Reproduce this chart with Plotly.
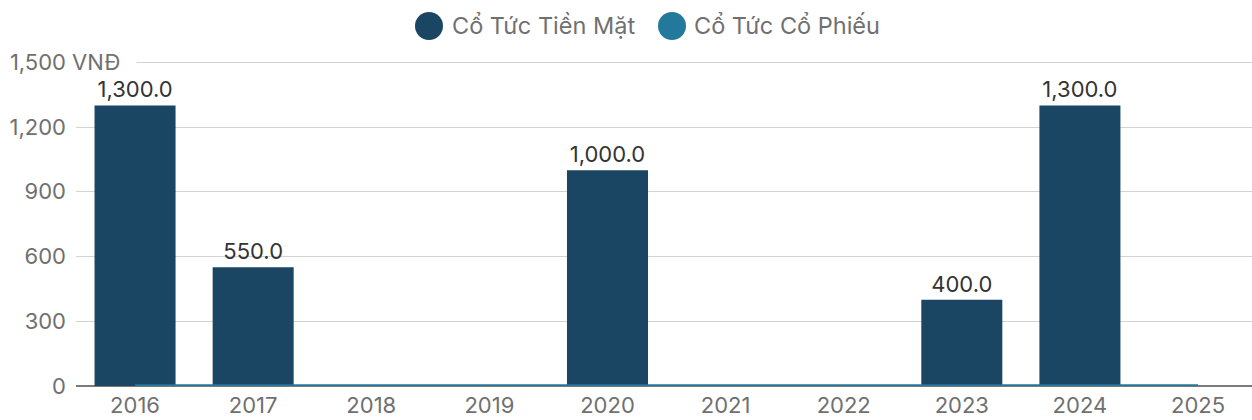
import plotly.graph_objects as go

years = ["2016", "2017", "2018", "2019", "2020", "2021", "2022", "2023", "2024", "2025"]
cash_dividend = [1300, 550, 0, 0, 1000, 0, 0, 400, 1300, 0]
stock_dividend = [0, 0, 0, 0, 0, 0, 0, 0, 0, 0]
series_names = ["Cổ Tức Tiền Mặt", "Cổ Tức Cổ Phiếu"]
y_ticks = [0, 300, 600, 900, 1200, 1500]

C_CASH = "#1b4663"
C_STOCK = "#23799b"
FONT = "Inter"
TXT = "#707070"

W, H = 1252, 420
ML, MR, MT, MB = 76, 0, 58, 34
PW = W - ML - MR
PH = H - MT - MB

fig = go.Figure()
fig.add_trace(go.Bar(
    x=years, y=cash_dividend, name=series_names[0],
    marker=dict(color=C_CASH, line=dict(width=0)),
    width=0.686,
    text=[f"{v:,.1f}" if v else "" for v in cash_dividend],
    textposition="outside", cliponaxis=False,
    textfont=dict(family=FONT, size=22, color="#333333"),
    showlegend=False,
))
fig.add_trace(go.Scatter(
    x=years, y=stock_dividend, name=series_names[1], mode="lines",
    line=dict(color=C_STOCK, width=3.5), cliponaxis=False,
    showlegend=False,
))

fig.update_layout(
    width=W, height=H,
    margin=dict(l=ML, r=MR, t=MT, b=MB, pad=0),
    paper_bgcolor="white", plot_bgcolor="white",
    font=dict(family=FONT, color=TXT, size=22),
    showlegend=False,
    xaxis=dict(
        type="category", range=[-0.5, 9.457],
        showgrid=False, showline=False, zeroline=False,
        ticks="", tickfont=dict(size=22, color=TXT),
        ticklabelstandoff=4, fixedrange=True, automargin=False,
    ),
    yaxis=dict(
        range=[0, 1520], tickvals=y_ticks, tickformat=",",
        showgrid=True, gridcolor="#d3d3d3", gridwidth=1,
        zeroline=True, zerolinecolor="#7a7a7a", zerolinewidth=1.5,
        showline=False, ticks="",
        tickfont=dict(size=22, color=TXT),
        ticklabelstandoff=9, fixedrange=True, automargin=False,
    ),
)

# unit label after top tick, covering the gridline start
fig.add_annotation(
    x=(71 - ML) / PW, xref="paper", xanchor="left",
    y=1500, yref="y", yanchor="middle",
    text="VNĐ", showarrow=False, align="left",
    width=64, bgcolor="white", borderpad=0,
    font=dict(family=FONT, size=22, color=TXT),
)

# custom legend with large circles
legend_items = [(429, 450, series_names[0], C_CASH), (672, 692, series_names[1], C_STOCK)]
ly = 26
for cx, tx, name, col in legend_items:
    fig.add_shape(
        type="circle", xref="paper", yref="paper",
        x0=(cx - 14 - ML) / PW, x1=(cx + 14 - ML) / PW,
        y0=(H - MB - (ly + 14)) / PH,
        y1=(H - MB - (ly - 14)) / PH,
        fillcolor=col, line=dict(width=0),
    )
    fig.add_annotation(
        x=(tx - ML) / PW, xref="paper", xanchor="left",
        y=(H - MB - ly) / PH, yref="paper", yanchor="middle",
        text=name, showarrow=False,
        font=dict(family=FONT, size=23.5, color=TXT),
    )

fig.write_html(
    "out.html",
    config={"displayModeBar": False, "staticPlot": True},
    post_script="document.body.style.margin='0';document.body.style.overflow='hidden';",
)
